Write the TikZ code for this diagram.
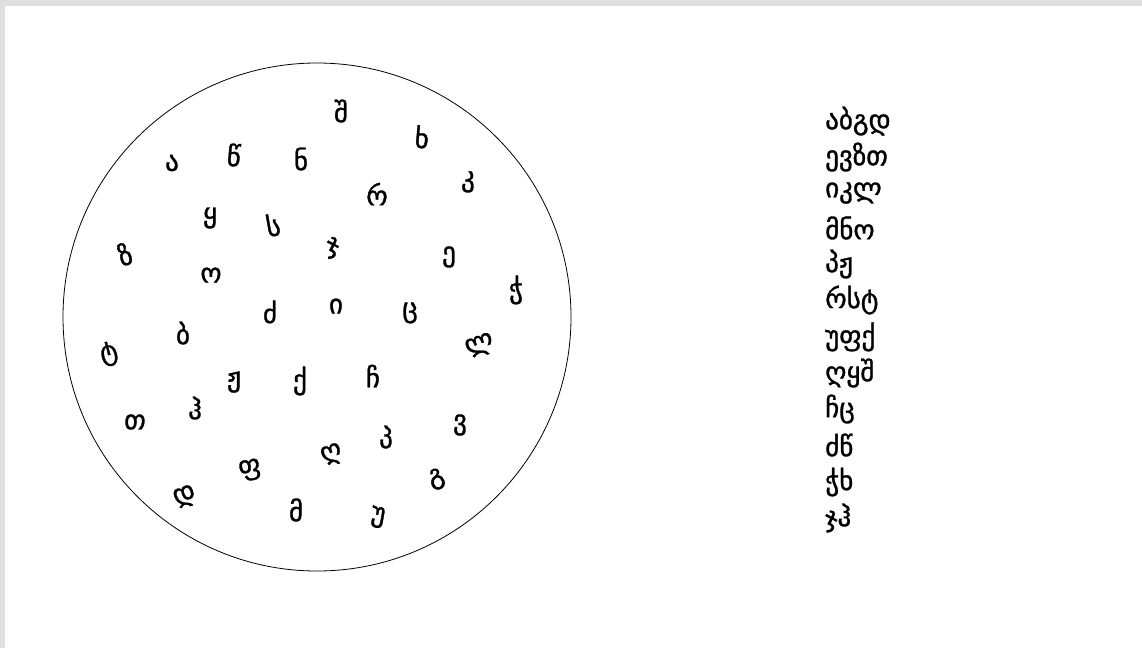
\documentclass[tikz,border=0pt]{standalone}
\usepackage{fontspec}
\newfontfamily\geo{DejaVu Sans}[FakeBold=1.2]
\begin{document}
\begin{tikzpicture}[x=1pt,y=-1pt,
  letter/.style={font=\geo\fontsize{27}{29}\selectfont, inner sep=0pt},
  row/.style={font=\geo\fontsize{27}{29}\selectfont, inner sep=0pt, anchor=west}]
\useasboundingbox (0,0) rectangle (1142,648);
\fill[gray!25] (0,0) rectangle (1142,6);
\fill[gray!25] (0,0) rectangle (5,648);
\node[draw, circle, minimum size=508pt, line width=0.8pt, inner sep=0pt] (disk) at (317,317) {};
\node[letter] (l1) at (341,111) {შ};
\node[letter, rotate=-5] (l2) at (422,137) {ხ};
\node[letter] (l3) at (172,163) {ა};
\node[letter, rotate=-5] (l4) at (234,155) {წ};
\node[letter] (l5) at (301,159) {ნ};
\node[letter] (l6) at (377,194) {რ};
\node[letter] (l7) at (468,182) {კ};
\node[letter] (l8) at (210,218) {ყ};
\node[letter, rotate=10] (l9) at (273,225) {ს};
\node[letter] (l10) at (333,248) {ჯ};
\node[letter] (l11) at (449,257) {ე};
\node[letter, rotate=15] (l12) at (125,254) {ზ};
\node[letter] (l13) at (211,275) {ო};
\node[letter] (l14) at (516,290) {ჭ};
\node[letter] (l15) at (270,312) {ძ};
\node[letter] (l16) at (336,306) {ი};
\node[letter] (l17) at (410,313) {ც};
\node[letter] (l18) at (183,333) {ბ};
\node[letter, rotate=15] (l19) at (109,354) {ტ};
\node[letter, rotate=20] (l20) at (480,346) {ლ};
\node[letter] (l21) at (234,382) {ჟ};
\node[letter] (l22) at (300,381) {ქ};
\node[letter] (l23) at (373,376) {ჩ};
\node[letter] (l24) at (135,422) {თ};
\node[letter] (l25) at (195,408) {ჰ};
\node[letter] (l26) at (460,425) {ვ};
\node[letter] (l27) at (386,437) {პ};
\node[letter, rotate=20] (l28) at (332,455) {ღ};
\node[letter, rotate=10] (l29) at (250,470) {ფ};
\node[letter, rotate=20] (l30) at (185,497) {დ};
\node[letter] (l31) at (296,510) {მ};
\node[letter, rotate=-10] (l32) at (378,517) {უ};
\node[letter, rotate=15] (l33) at (437,479) {გ};
\node[row] (r1) at (825,121) {აბგდ};
\node[row] (r2) at (825,157) {ევზთ};
\node[row] (r3) at (825,193) {იკლ};
\node[row] (r4) at (825,228) {მნო};
\node[row] (r5) at (825,264) {პჟ};
\node[row] (r6) at (825,300) {რსტ};
\node[row] (r7) at (825,337) {უფქ};
\node[row] (r8) at (825,373) {ღყშ};
\node[row] (r9) at (825,409) {ჩც};
\node[row] (r10) at (825,445) {ძწ};
\node[row] (r11) at (825,482) {ჭხ};
\node[row] (r12) at (825,518) {ჯჰ};
\end{tikzpicture}
\end{document}
